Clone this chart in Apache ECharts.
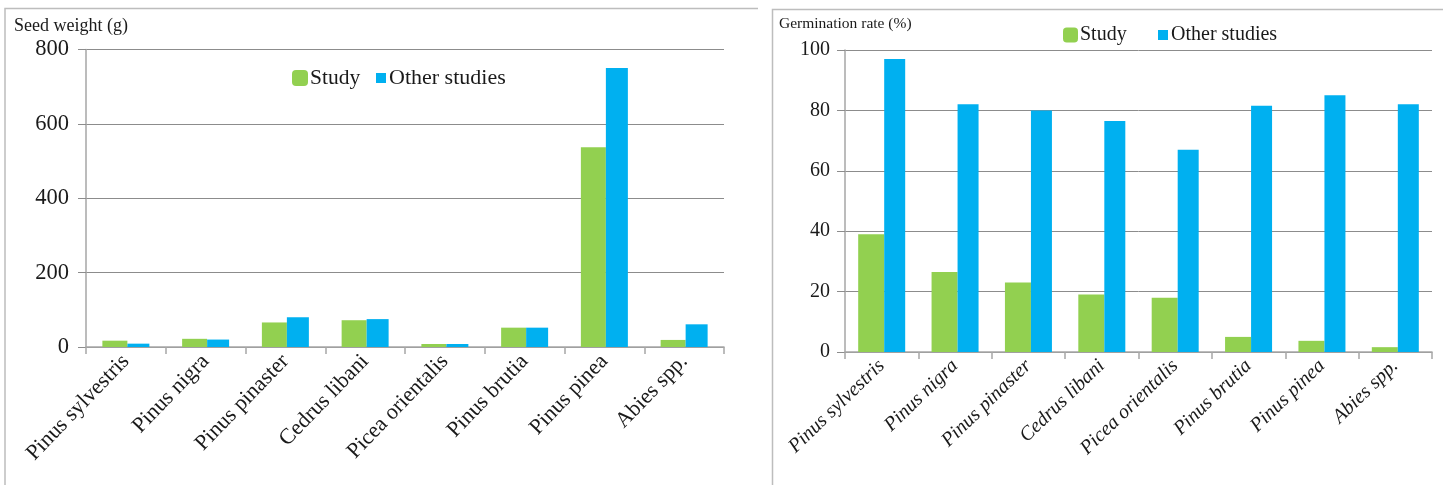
<!DOCTYPE html>
<html>
<head>
<meta charset="utf-8">
<script src="https://cdn.jsdelivr.net/npm/echarts@6/dist/echarts.min.js"></script>
<style>
  html, body { margin: 0; padding: 0; background: #fff; }
  #chart { width: 1443px; height: 485px; }
</style>
</head>
<body>
<div id="chart"></div>
<script>
// Species compared in both panels
const species = ['Pinus sylvestris', 'Pinus nigra', 'Pinus pinaster', 'Cedrus libani',
  'Picea orientalis', 'Pinus brutia', 'Pinus pinea', 'Abies spp.'];

// Seed weight (g)
const weightStudy = [17, 22, 66, 72, 8, 52, 537, 19];
const weightOther = [9, 20, 80, 75, 8, 52, 750, 61];

// Germination rate (%)
const germStudy = [39, 26.5, 23, 19, 18, 5, 3.7, 1.6];
const germOther = [97, 82, 80, 76.5, 67, 81.5, 85, 82];

const weightTicks = { min: 0, max: 800, interval: 200 };
const germTicks = { min: 0, max: 100, interval: 20 };

const GREEN = '#92D050';
const BLUE = '#00B0F0';
const SERIF = 'Liberation Serif';
const AXIS_GREY = '#A6A6A6';
const GRID_GREY = '#8C8C8C';

const chart = echarts.init(document.getElementById('chart'), null, { renderer: 'canvas' });

function catAxis(gridIndex, fontSize, italic, rotate, margin) {
  return {
    type: 'category', gridIndex, data: species,
    axisLine: { lineStyle: { color: AXIS_GREY, width: 1.5 } },
    axisTick: { show: true, length: 7, lineStyle: { color: AXIS_GREY, width: 1.5 } },
    axisLabel: {
      interval: 0, rotate, margin,
      fontFamily: SERIF, fontSize, fontStyle: italic ? 'italic' : 'normal', color: '#1a1a1a'
    }
  };
}

function valAxis(gridIndex, ticks, fontSize, margin) {
  return {
    type: 'value', gridIndex, min: ticks.min, max: ticks.max, interval: ticks.interval,
    axisLine: { show: true, lineStyle: { color: AXIS_GREY, width: 1.5 } },
    axisTick: { show: true, length: 8, lineStyle: { color: GRID_GREY, width: 1 } },
    splitLine: { lineStyle: { color: GRID_GREY, width: 1 } },
    axisLabel: { margin, fontFamily: SERIF, fontSize, color: '#1a1a1a' }
  };
}

chart.setOption({
  animation: false,
  backgroundColor: '#fff',
  graphic: [
    // panel frames
    { type: 'polyline', shape: { points: [[5, 485], [5, 8.5], [758, 8.5]] },
      style: { stroke: '#BDBDBD', lineWidth: 1.5, fill: null } },
    { type: 'polyline', shape: { points: [[772.5, 485], [772.5, 9.5], [1443, 9.5]] },
      style: { stroke: '#BDBDBD', lineWidth: 1.5, fill: null } },
    // axis titles
    { type: 'text', left: 14, top: 17,
      style: { text: 'Seed weight (g)', font: '18px "Liberation Serif"', fill: '#1a1a1a' } },
    { type: 'text', left: 779, top: 16,
      style: { text: 'Germination rate (%)', font: '15.5px "Liberation Serif"', fill: '#1a1a1a' } }
  ],
  legend: [
    { data: ['Study'], left: 287, top: 62, itemWidth: 16, itemHeight: 16, itemGap: 0,
      icon: 'roundRect', textStyle: { fontFamily: SERIF, fontSize: 21.5, color: '#1a1a1a', padding: [0, 0, 0, -3] } },
    { data: ['Other studies'], left: 371, top: 62, itemWidth: 10, itemHeight: 10,
      icon: 'rect', textStyle: { fontFamily: SERIF, fontSize: 22, color: '#1a1a1a', padding: [0, 0, 0, -2] } },
    { data: ['Study'], left: 1058, top: 20, itemWidth: 15, itemHeight: 15,
      icon: 'roundRect', textStyle: { fontFamily: SERIF, fontSize: 20, color: '#1a1a1a', padding: [0, 0, 0, -3] } },
    { data: ['Other studies'], left: 1153, top: 20, itemWidth: 10, itemHeight: 10,
      icon: 'rect', textStyle: { fontFamily: SERIF, fontSize: 20, color: '#1a1a1a', padding: [0, 0, 0, -2] } }
  ],
  grid: [
    { left: 86, top: 49.5, width: 638, height: 297.5 },
    { left: 845, top: 50, width: 587, height: 302 }
  ],
  xAxis: [
    catAxis(0, 22, false, 46, 11),
    catAxis(1, 20, true, 44, 11)
  ],
  yAxis: [
    valAxis(0, weightTicks, 22.5, 17),
    valAxis(1, germTicks, 20, 15)
  ],
  series: [
    { name: 'Study', type: 'bar', xAxisIndex: 0, yAxisIndex: 0, data: weightStudy,
      barWidth: 25, barGap: '0%', itemStyle: { color: GREEN } },
    { name: 'Other studies', type: 'bar', xAxisIndex: 0, yAxisIndex: 0, data: weightOther,
      barWidth: 22, barGap: '0%', itemStyle: { color: BLUE } },
    { name: 'Study', type: 'bar', xAxisIndex: 1, yAxisIndex: 1, data: germStudy,
      barWidth: 26, barGap: '0%', itemStyle: { color: GREEN } },
    { name: 'Other studies', type: 'bar', xAxisIndex: 1, yAxisIndex: 1, data: germOther,
      barWidth: 21, barGap: '0%', itemStyle: { color: BLUE } }
  ]
});
</script>
</body>
</html>
